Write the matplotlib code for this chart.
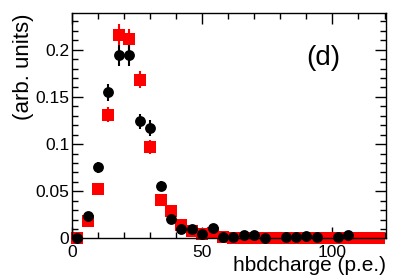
import numpy as np
import matplotlib.pyplot as plt
from matplotlib.ticker import MultipleLocator, FuncFormatter

plt.rcParams['font.family'] = ['Liberation Sans', 'DejaVu Sans']

# bin centres (p.e.), bin width 4
x_black = [2, 6, 10, 14, 18, 22, 26, 30, 34, 38, 42, 46, 50, 54, 58, 62, 66, 70, 74,
           82, 86, 90, 94, 102, 106]
y_black = [0.001, 0.024, 0.0755, 0.155, 0.194, 0.194, 0.124, 0.117, 0.0554, 0.021,
           0.0097, 0.0097, 0.0044, 0.0114, 0.0013, 0.002, 0.0035, 0.0035, 0.0005,
           0.0015, 0.0015, 0.0025, 0.0015, 0.0015, 0.0035]
e_black = [0.001, 0.004, 0.006, 0.009, 0.011, 0.011, 0.008, 0.008, 0.005, 0.003,
           0.002, 0.002, 0.002, 0.003, 0.001, 0.001, 0.002, 0.002, 0.001,
           0.001, 0.001, 0.002, 0.001, 0.001, 0.002]

x_red = [2, 6, 10, 14, 18, 22, 26, 30, 34, 38, 42, 46, 50, 54, 58, 62, 66, 70, 74,
         78, 82, 86, 90, 94, 98, 102, 106, 110, 114, 118]
y_red = [0.001, 0.019, 0.0525, 0.131, 0.216, 0.211, 0.168, 0.097, 0.0407, 0.029,
         0.0142, 0.008, 0.005, 0.006, 0.002, 0.001, 0.001, 0.001, 0.001,
         0.001, 0.001, 0.001, 0.001, 0.001, 0.001, 0.001, 0.001, 0.001, 0.001, 0.001]
e_red = [0.001, 0.003, 0.005, 0.008, 0.011, 0.011, 0.009, 0.007, 0.004, 0.004,
         0.003, 0.002, 0.002, 0.002, 0.001, 0.001, 0.001, 0.001, 0.001,
         0.001, 0.001, 0.001, 0.001, 0.001, 0.001, 0.001, 0.001, 0.001, 0.001, 0.001]

fig = plt.figure(figsize=(4.07, 2.77), dpi=100)
ax = fig.add_axes([0.177, 0.139, 0.771, 0.813])

r = ax.errorbar(x_red, y_red, yerr=e_red, fmt='s', color='#ff0000', ms=8,
                mew=0, elinewidth=1.5, capsize=0)
b = ax.errorbar(x_black, y_black, yerr=e_black, fmt='o', color='black', ms=7.8,
                mew=0, elinewidth=1.5, capsize=0)
for c in (r, b):
    for art in c.get_children():
        art.set_clip_on(False)

ax.set_xlim(0, 120.5)
ax.set_ylim(0, 0.2385)

ax.xaxis.set_major_locator(MultipleLocator(50))
ax.xaxis.set_minor_locator(MultipleLocator(10))
ax.yaxis.set_major_locator(MultipleLocator(0.05))
ax.yaxis.set_minor_locator(MultipleLocator(0.01))
ax.yaxis.set_major_formatter(FuncFormatter(lambda v, p: '%g' % round(v, 3)))
ax.tick_params(which='both', direction='in', top=True, right=True, width=1,
               labelsize=12.5)
ax.tick_params(which='major', length=8)
ax.tick_params(which='minor', length=4)
ax.tick_params(axis='x', pad=5)
ax.tick_params(axis='y', pad=2)
for s in ax.spines.values():
    s.set_linewidth(1)

ax.set_xlabel('hbdcharge (p.e.)', loc='right', fontsize=15, labelpad=-3)
ax.set_ylabel('(arb. units)', loc='top', fontsize=16, labelpad=1)
ax.text(0.80, 0.80, '(d)', transform=ax.transAxes, fontsize=20,
        ha='center', va='center')

fig.savefig('out.png', dpi=100)
